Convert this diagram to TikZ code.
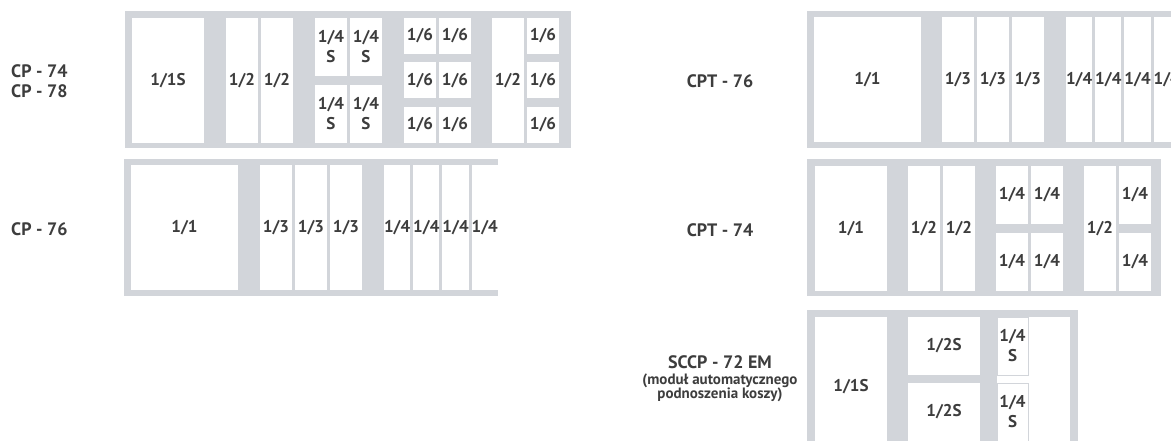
\documentclass[tikz,border=0pt]{standalone}
\usepackage{fontspec}
\setmainfont{PT Sans}
\usepackage{tikz}
\usetikzlibrary{positioning}
\definecolor{framegray}{HTML}{D2D5DA}
\definecolor{txtgray}{HTML}{3D3D3D}

\begin{document}
\begin{tikzpicture}[x=1pt, y=-1pt,
  font=\fontsize{17}{20}\selectfont\bfseries, text=txtgray,
  frame/.style={fill=framegray},
  slot/.style={fill=white, inner sep=0pt, outer sep=0pt, align=center, minimum height=125pt},
  w25/.style={slot, minimum width=25pt},
  w32/.style={slot, minimum width=32pt},
  w72/.style={slot, minimum width=72pt},
  w107/.style={slot, minimum width=107pt},
  half/.style={minimum height=58pt},
  third/.style={minimum height=36pt},
  model/.style={inner sep=0pt, align=center, font=\fontsize{18}{20}\selectfont\bfseries}]
\useasboundingbox (0,0) rectangle (1171,441);
\clip (0,0) rectangle (1171,441);

% CP - 74 / CP - 78
\node[model, anchor=west, align=left] (cpalbl) at (11,81) {CP - 74\\CP - 78};
\fill[frame] (125,11) rectangle (571,148);
\node[w72, anchor=north west] (cpa1) at (132,18) {1/1S};
\node[w32, right=22pt of cpa1] (cpa2) {1/2};
\node[w32, right=3pt of cpa2] (cpa3) {1/2};
\node[w32, half, right=22pt of cpa3.north east, anchor=north west] (cpa4) {1/4\\S};
\node[w32, half, right=3pt of cpa4] (cpa5) {1/4\\S};
\node[w32, half, below=9pt of cpa4] (cpa6) {1/4\\S};
\node[w32, half, below=9pt of cpa5] (cpa7) {1/4\\S};
\node[w32, third, right=22pt of cpa5.north east, anchor=north west] (cpa8) {1/6};
\node[w32, third, right=3pt of cpa8] (cpa9) {1/6};
\node[w32, third, below=8.5pt of cpa8] (cpa10) {1/6};
\node[w32, third, below=8.5pt of cpa9] (cpa11) {1/6};
\node[w32, third, below=8.5pt of cpa10] (cpa12) {1/6};
\node[w32, third, below=8.5pt of cpa11] (cpa13) {1/6};
\node[w32, right=21pt of cpa9.north east, anchor=north west] (cpa14) {1/2};
\node[w32, third, right=3pt of cpa14.north east, anchor=north west] (cpa15) {1/6};
\node[w32, third, below=8.5pt of cpa15] (cpa16) {1/6};
\node[w32, third, below=8.5pt of cpa16] (cpa17) {1/6};

% CP - 76
\node[model, anchor=west] (cpblbl) at (11,229) {CP - 76};
\fill[frame] (124,159) rectangle (498,296);
\node[w107, anchor=north west] (cpb1) at (131,165) {1/1};
\node[w32, right=22pt of cpb1] (cpb2) {1/3};
\node[w32, right=3pt of cpb2] (cpb3) {1/3};
\node[w32, right=3pt of cpb3] (cpb4) {1/3};
\node[w25, right=22pt of cpb4] (cpb5) {1/4};
\node[w25, right=3pt of cpb5] (cpb6) {1/4};
\node[w25, right=3pt of cpb6] (cpb7) {1/4};
\node[w25, right=3pt of cpb7] (cpb8) {1/4};

% CPT - 76
\node[model] (cptalbl) at (720,81) {CPT - 76};
\fill[frame] (807,11) rectangle (1185,148);
\node[w107, anchor=north west] (cpta1) at (814,17) {1/1};
\node[w32, right=21pt of cpta1] (cpta2) {1/3};
\node[w32, right=3pt of cpta2] (cpta3) {1/3};
\node[w32, right=3pt of cpta3] (cpta4) {1/3};
\node[w25, right=22pt of cpta4] (cpta5) {1/4};
\node[w25, right=3pt of cpta5] (cpta6) {1/4};
\node[w25, right=3pt of cpta6] (cpta7) {1/4};
\node[w25, right=3pt of cpta7] (cpta8) {1/4};

% CPT - 74
\node[model] (cptblbl) at (720,230) {CPT - 74};
\fill[frame] (807,159) rectangle (1161,296);
\node[w72, anchor=north west] (cptb1) at (815,166) {1/1};
\node[w32, right=21pt of cptb1] (cptb2) {1/2};
\node[w32, right=3pt of cptb2] (cptb3) {1/2};
\node[w32, half, right=21pt of cptb3.north east, anchor=north west] (cptb4) {1/4};
\node[w32, half, right=3pt of cptb4] (cptb5) {1/4};
\node[w32, half, below=9pt of cptb4] (cptb6) {1/4};
\node[w32, half, below=9pt of cptb5] (cptb7) {1/4};
\node[w32, right=21pt of cptb5.north east, anchor=north west] (cptb8) {1/2};
\node[w32, half, right=3pt of cptb8.north east, anchor=north west] (cptb9) {1/4};
\node[w32, half, below=9pt of cptb9] (cptb10) {1/4};

% SCCP - 72 EM
\node[model] (sclbl) at (720,362) {SCCP - 72 EM};
\node[model, font=\fontsize{15}{14}\selectfont\bfseries, below=5pt of sclbl] (scnote) {(moduł automatycznego\\podnoszenia koszy)};
\fill[frame] (807,310) rectangle (1078,460);
\fill[white] (997,317) rectangle (1070,460);
\node[w72, minimum height=140pt, anchor=north west] (sc1) at (815,317) {1/1S};
\node[w72, half, right=21pt of sc1.north east, anchor=north west] (sc2) {1/2S};
\node[w72, half, below=8pt of sc2] (sc3) {1/2S};
\node[w32, half, draw=framegray, minimum width=31pt, right=17pt of sc2.north east, anchor=north west] (sc4) {1/4\\S};
\node[w32, half, draw=framegray, minimum width=31pt, below=8pt of sc4] (sc5) {1/4\\S};
\end{tikzpicture}
\end{document}
